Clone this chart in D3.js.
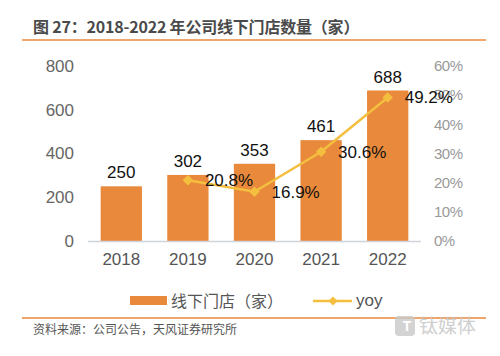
<!DOCTYPE html>
<html><head><meta charset="utf-8">
<script src="https://cdn.jsdelivr.net/npm/d3@7"></script>
<style>body{margin:0;background:#fff;}svg{display:block;font-family:"Liberation Sans","Noto Sans CJK SC",sans-serif;}</style>
</head><body><svg id="c" width="500" height="356"></svg>
<script>
const categories = ["2018","2019","2020","2021","2022"];
const stores = [250,302,353,461,688];
const yoy = [null,20.8,16.9,30.6,49.2];
const leftTicks = [0,200,400,600,800];
const rightTicks = [0,10,20,30,40,50,60];
const title = "图 27：2018-2022 年公司线下门店数量（家）";
const source = "资料来源：公司公告，天风证券研究所";
const legendBar = "线下门店（家）";
const legendLine = "yoy";

const svg = d3.select("#c");
const barColor = "#E8893B", lineColor = "#F4BE3F";
const x = d3.scaleBand().domain(categories).range([88,421]).paddingInner(0.38).paddingOuter(0.19);
const yL = d3.scaleLinear().domain([0,800]).range([241,66]);
const yR = d3.scaleLinear().domain([0,60]).range([241,66]);
const cjk = '"Noto Sans CJK SC",sans-serif';

// title
svg.append("text").attr("x",33).attr("y",33).attr("font-size",16).attr("font-weight","bold")
  .attr("fill","#4a4a4a").attr("letter-spacing","-0.2").style("font-family",cjk).text(title);
svg.append("line").attr("x1",22).attr("x2",486).attr("y1",40).attr("y2",40).attr("stroke","#E8893B").attr("stroke-width",1.5);

// left axis
const gL = svg.append("g").attr("transform","translate(74,0)")
  .call(d3.axisLeft(yL).tickValues(leftTicks).tickSize(0).tickPadding(0));
gL.select(".domain").remove();
gL.selectAll("text").attr("font-size",17).attr("fill","#666").style("font-family","Liberation Sans");

// right axis
const gR = svg.append("g").attr("transform","translate(434,0)")
  .call(d3.axisRight(yR).tickValues(rightTicks).tickFormat(d=>d+"%").tickSize(0).tickPadding(0));
gR.select(".domain").remove();
gR.selectAll("text").attr("font-size",15).attr("fill","#999").attr("letter-spacing","-0.5").style("font-family","Liberation Sans Narrow, Liberation Sans");

// bars
svg.append("g").selectAll("rect").data(categories).join("rect")
  .attr("x",d=>x(d)).attr("width",x.bandwidth())
  .attr("y",(d,i)=>yL(stores[i])).attr("height",(d,i)=>yL(0)-yL(stores[i]))
  .attr("fill",barColor);

// baseline
svg.append("line").attr("x1",88).attr("x2",421).attr("y1",241.5).attr("y2",241.5).attr("stroke","#d0d4da").attr("stroke-width",1.5);

// x axis labels
const gX = svg.append("g").attr("transform","translate(0,250)")
  .call(d3.axisBottom(x).tickSize(0).tickPadding(0));
gX.select(".domain").remove();
gX.selectAll("text").attr("font-size",17).attr("fill","#555").attr("dy","0.9em").style("font-family","Liberation Sans");

// bar labels
svg.append("g").selectAll("text").data(categories).join("text")
  .attr("x",d=>x(d)+x.bandwidth()/2).attr("y",(d,i)=>yL(stores[i])-8)
  .attr("text-anchor","middle").attr("font-size",17).attr("fill","#111")
  .text((d,i)=>stores[i]);

// line
const pts = categories.map((c,i)=>({c,v:yoy[i]})).filter(d=>d.v!=null);
const cx = d=>x(d.c)+x.bandwidth()/2;
svg.append("path").datum(pts)
  .attr("d",d3.line().x(cx).y(d=>yR(d.v)))
  .attr("fill","none").attr("stroke",lineColor).attr("stroke-width",2.5);
svg.append("g").selectAll("path").data(pts).join("path")
  .attr("transform",d=>`translate(${cx(d)},${yR(d.v)}) rotate(45)`)
  .attr("d",d3.symbol(d3.symbolSquare,56))
  .attr("fill",lineColor);
svg.append("g").selectAll("text").data(pts).join("text")
  .attr("x",d=>cx(d)+17).attr("y",d=>yR(d.v)).attr("dy","0.35em")
  .attr("font-size",17).attr("fill","#111")
  .text(d=>d.v.toFixed(1)+"%");

// legend
svg.append("rect").attr("x",130).attr("y",296).attr("width",37).attr("height",9).attr("fill",barColor);
svg.append("text").attr("x",171).attr("y",301).attr("dy","0.35em").attr("font-size",16).attr("fill","#555")
  .style("font-family",cjk).text(legendBar);
svg.append("line").attr("x1",313).attr("x2",352).attr("y1",301).attr("y2",301).attr("stroke",lineColor).attr("stroke-width",2.5);
svg.append("path").attr("transform","translate(333,301) rotate(45)").attr("d",d3.symbol(d3.symbolSquare,42)).attr("fill",lineColor);
svg.append("text").attr("x",356).attr("y",301).attr("dy","0.3em").attr("font-size",17).attr("fill","#555").text(legendLine);

// bottom rule & source
svg.append("line").attr("x1",22).attr("x2",486).attr("y1",318).attr("y2",318).attr("stroke","#E8893B").attr("stroke-width",1.5);
svg.append("text").attr("x",33).attr("y",330).attr("dy","0.35em").attr("font-size",12).attr("fill","#555")
  .style("font-family",cjk).text(source);

// watermark
svg.append("rect").attr("x",395).attr("y",316).attr("width",20).attr("height",20).attr("rx",4).attr("fill","#c8c8c8").attr("opacity",0.8);
svg.append("text").attr("x",407).attr("y",326).attr("dy","0.35em").attr("text-anchor","middle").attr("font-size",14).attr("font-weight","bold").attr("fill","#fff").text("T");
svg.append("text").attr("x",419).attr("y",326).attr("dy","0.35em").attr("font-size",19).attr("fill","#c8c8c8").attr("opacity",0.85)
  .style("font-family",cjk).text("钛媒体");
</script></body></html>
